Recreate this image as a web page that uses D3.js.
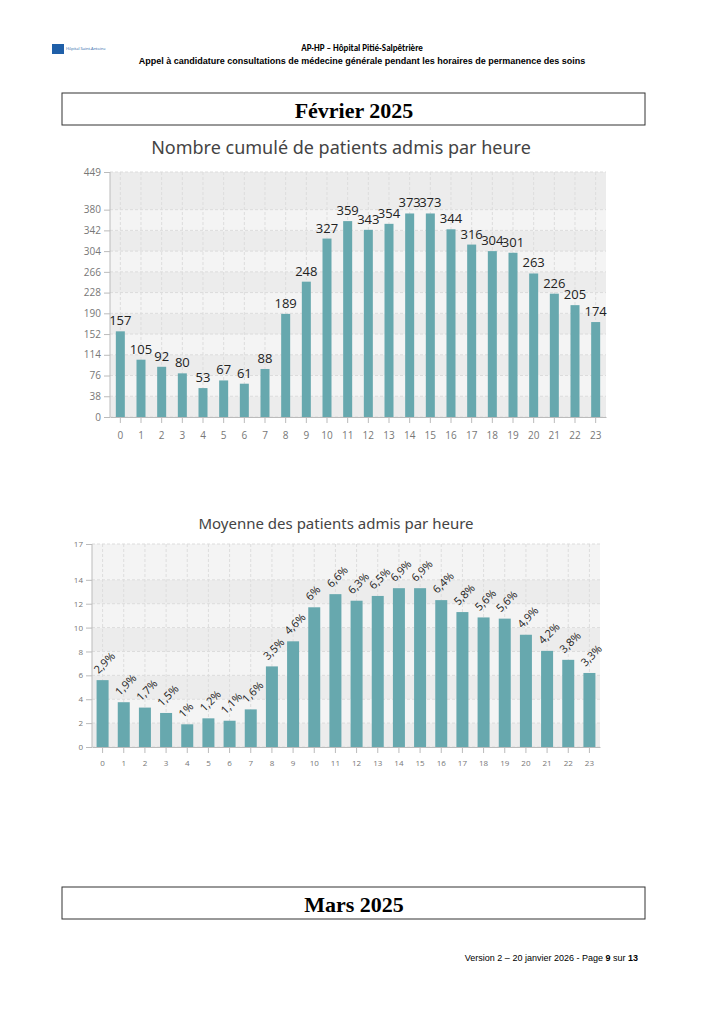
<!DOCTYPE html>
<html><head><meta charset="utf-8">
<script src="https://cdn.jsdelivr.net/npm/d3@7"></script>
<style>body{margin:0;background:#fff}</style>
</head><body>
<svg id="c" width="724" height="1024"></svg>
<script>
const hours = d3.range(24).map(String);
const cumul = [157,105,92,80,53,67,61,88,189,248,327,359,343,354,373,373,344,316,304,301,263,226,205,174];
const cumulTicks = [0,38,76,114,152,190,228,266,304,342,380,449];
const moyenne = [5.6,3.75,3.3,2.85,1.9,2.4,2.2,3.15,6.75,8.85,11.7,12.8,12.25,12.65,13.3,13.3,12.3,11.3,10.85,10.75,9.4,8.05,7.3,6.2];
const pctLabels = ["2,9%","1,9%","1,7%","1,5%","1%","1,2%","1,1%","1,6%","3,5%","4,6%","6%","6,6%","6,3%","6,5%","6,9%","6,9%","6,4%","5,8%","5,6%","5,6%","4,9%","4,2%","3,8%","3,3%"];
const moyTicks = [0,2,4,6,8,10,12,14,17];

const svg = d3.select("#c");
const F = "'Open Sans', 'Noto Sans', sans-serif";
// header
svg.append("rect").attr("x",52).attr("y",44).attr("width",12).attr("height",10).attr("fill","#1f5fa8");
svg.append("text").attr("x",66).attr("y",50).attr("font-size",4).attr("fill","#1f5fa8").attr("font-family",F).text("Hôpital Saint-Antoine");
svg.append("text").attr("x",362).attr("y",51).attr("text-anchor","middle").attr("font-size",9).attr("font-weight","bold").attr("font-family","Calibri, 'Liberation Sans', sans-serif").text("AP-HP – Hôpital Pitié-Salpêtrière");
svg.append("text").attr("x",362).attr("y",64).attr("text-anchor","middle").attr("font-size",9).attr("font-weight","bold").attr("font-family","'Liberation Sans', sans-serif").text("Appel à candidature consultations de médecine générale pendant les horaires de permanence des soins");
function box(y,t){
  svg.append("rect").attr("x",62).attr("y",y).attr("width",583).attr("height",32).attr("fill","none").attr("stroke","#333").attr("stroke-width",1);
  svg.append("text").attr("x",354).attr("y",y+25).attr("text-anchor","middle").attr("font-size",22).attr("font-weight","bold").attr("font-family","'Liberation Serif', serif").text(t);
}
box(93,"Février 2025"); box(887,"Mars 2025");
const ft = svg.append("text").attr("x",638).attr("y",961).attr("text-anchor","end").attr("font-size",9).attr("font-family","'Liberation Sans', sans-serif");
ft.append("tspan").text("Version 2 – 20 janvier 2026 - Page ");
ft.append("tspan").attr("font-weight","bold").text("9");
ft.append("tspan").text(" sur ");
ft.append("tspan").attr("font-weight","bold").text("13");

function chart(o){
  const x = d3.scaleBand().domain(hours).range([o.x0,o.x1]).paddingInner(o.pad).paddingOuter(o.pad/2);
  const y = d3.scaleLinear().domain([0,o.max]).range([o.y0,o.y1]);
  const g = svg.append("g");
  const t = o.ticks;
  for(let i=0;i<t.length-1;i++){
    g.append("rect").attr("x",o.x0).attr("width",o.x1-o.x0).attr("y",y(t[i+1])).attr("height",y(t[i])-y(t[i+1])).attr("fill",i%2?"#f4f4f4":"#ececec");
  }
  t.forEach(v=>g.append("line").attr("x1",o.x0).attr("x2",o.x1).attr("y1",y(v)).attr("y2",y(v)).attr("stroke","#dcdcdc").attr("stroke-dasharray","3,2"));
  hours.forEach(h=>g.append("line").attr("x1",x(h)+x.bandwidth()/2).attr("x2",x(h)+x.bandwidth()/2).attr("y1",o.y1).attr("y2",o.y0).attr("stroke","#dddddd").attr("stroke-dasharray","3,2"));
  g.append("line").attr("x1",o.x0).attr("x2",o.x0).attr("y1",o.y1).attr("y2",o.y0).attr("stroke","#bbb");
  const ya = g.append("g").attr("transform",`translate(${o.x0},0)`).call(d3.axisLeft(y).tickValues(t).tickSize(6).tickSizeOuter(0));
  ya.select(".domain").remove();
  ya.selectAll("line").attr("stroke","#bbb");
  ya.selectAll("text").attr("fill","#777").attr("font-size",o.fs).attr("font-family",F);
  const xa = g.append("g").attr("transform",`translate(0,${o.y0})`).call(d3.axisBottom(x).tickSize(6).tickSizeOuter(0));
  xa.select(".domain").attr("stroke","#bbb");
  xa.selectAll("line").attr("stroke","#bbb");
  xa.selectAll("text").attr("fill","#777").attr("font-size",o.fs).attr("font-family",F).attr("dy","1.3em");
  const bw = o.bw;
  g.selectAll(".b").data(o.vals).join("rect").attr("x",(d,i)=>x(hours[i])+x.bandwidth()/2-bw/2).attr("width",bw)
    .attr("y",d=>y(d)).attr("height",d=>o.y0-y(d)).attr("fill","#67a8ae");
  o.vals.forEach((d,i)=>{
    const cx = x(hours[i])+x.bandwidth()/2, cy=y(d)-6;
    const tx = g.append("text").attr("font-family",F).attr("font-size",o.lfs).attr("fill","#222").text(o.labels[i]);
    if(o.rot) tx.attr("transform",`translate(${cx-4},${cy})rotate(-45)`);
    else tx.attr("x",cx).attr("y",cy).attr("text-anchor","middle");
  });
  svg.append("text").attr("x",o.tx).attr("y",o.ty).attr("text-anchor","middle").attr("font-size",o.tfs).attr("fill","#444").attr("font-family","'Noto Sans', sans-serif").text(o.title);
}
chart({x0:110,x1:606,y0:417,y1:172,max:449,ticks:cumulTicks,vals:cumul,labels:cumul.map(String),pad:0.55,bw:9,fs:10,lfs:13,rot:false,
  title:"Nombre cumulé de patients admis par heure",tx:341,ty:154,tfs:18});
chart({x0:92,x1:600,y0:747,y1:544,max:17,ticks:moyTicks,vals:moyenne,labels:pctLabels,pad:0.45,bw:12,fs:8,lfs:11,rot:true,
  title:"Moyenne des patients admis par heure",tx:336,ty:529,tfs:15});
</script>
</body></html>
